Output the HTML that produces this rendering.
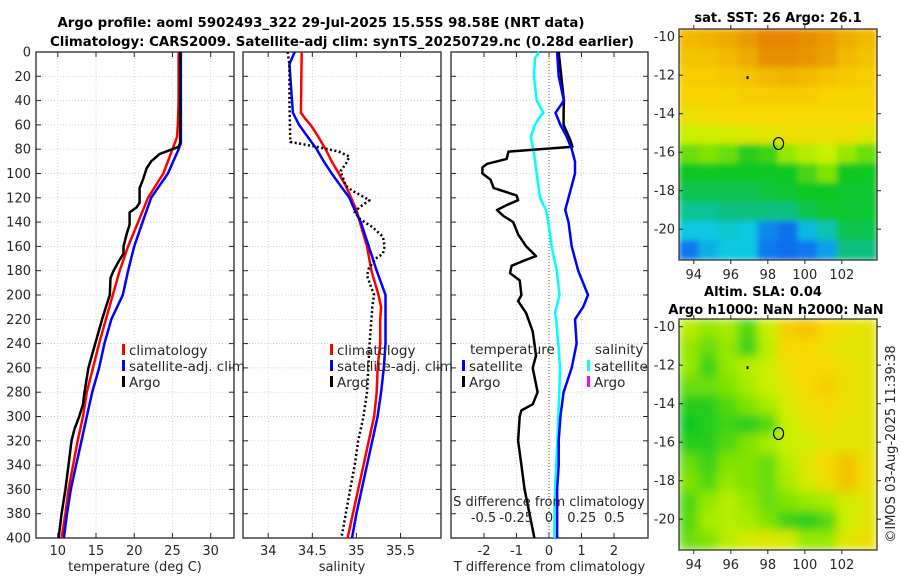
<!DOCTYPE html>
<html><head><meta charset="utf-8"><style>
html,body{margin:0;padding:0;background:#fff;}
svg{display:block;font-family:"DejaVu Sans","Liberation Sans",sans-serif;}
</style></head><body>
<svg id="fig" width="900" height="580" viewBox="0 0 900 580" xmlns="http://www.w3.org/2000/svg">
<text x="321" y="27" text-anchor="middle" font-size="13" font-weight="bold" textLength="527" lengthAdjust="spacingAndGlyphs">Argo profile: aoml 5902493_322 29-Jul-2025 15.55S 98.58E (NRT data)</text>
<text x="342" y="46" text-anchor="middle" font-size="13" font-weight="bold" textLength="584" lengthAdjust="spacingAndGlyphs">Climatology: CARS2009. Satellite-adj clim: synTS_20250729.nc (0.28d earlier)</text>
<g id="layer"></g>
</svg>
<script>
// ---- data ----
const tClimD = [0,20,40,60,70,80,100,120,140,160,180,200,220,240,260,280,300,320,340,360,380,400];
const tClim  = [25.8,25.8,25.8,25.7,25.6,25.0,23.8,21.8,20.5,19.2,18.1,17.2,16.3,15.4,14.6,13.8,13.3,12.6,12.0,11.4,11.0,10.5];
const tSatD = [0,20,40,60,75,80,100,120,140,160,180,200,220,240,260,280,300,320,340,360,380,400];
const tSat  = [26.1,26.1,26.1,26.1,26.1,25.8,24.4,22.2,21.1,20.0,19.2,18.5,17.0,16.1,15.4,14.5,13.8,13.1,12.4,11.7,11.2,10.8];
const tArgoD = [0,40,75,78,84,90,96,104,112,124,128,132,142,150,160,166,172,180,186,200,210,220,240,260,280,290,300,310,320,340,360,380,400];
const tArgo  = [26.0,26.0,26.0,25.8,23.3,22.2,21.6,21.2,20.7,20.7,20.3,19.4,19.4,19.0,18.6,18.6,18.0,17.3,16.9,16.8,16.3,15.8,14.9,14.0,13.5,13.3,12.8,12.2,11.8,11.4,11.0,10.5,10.1];
const sClimD = [0,50,55,60,70,80,90,100,110,120,130,140,160,180,200,210,220,240,260,280,300,320,340,360,380,400];
const sClim  = [34.38,34.37,34.42,34.48,34.57,34.65,34.72,34.80,34.88,34.94,35.0,35.04,35.12,35.17,35.25,35.28,35.27,35.27,35.24,35.23,35.20,35.14,35.08,35.02,34.96,34.90];
const sSatD = [0,5,10,20,40,50,60,70,80,90,100,110,120,130,140,160,180,200,220,240,260,280,300,320,340,360,380,400];
const sSat  = [34.30,34.27,34.24,34.25,34.27,34.28,34.35,34.45,34.55,34.63,34.72,34.82,34.92,34.98,35.05,35.14,35.23,35.33,35.33,35.33,35.31,35.28,35.24,35.18,35.12,35.06,35.0,34.95];
const sArgoD = [0,10,40,74,78,82,86,92,98,104,110,114,122,128,132,138,144,152,160,166,170,178,184,190,200,210,240,280,300,320,340,360,380,400];
const sArgo  = [34.22,34.24,34.24,34.25,34.55,34.80,34.92,34.88,34.82,34.85,34.88,34.95,35.15,35.03,34.98,35.05,35.18,35.30,35.32,35.30,35.22,35.14,35.12,35.15,35.20,35.18,35.15,35.12,35.08,35.02,34.98,34.93,34.88,34.83];
const dTSatD = [0,20,40,50,60,70,80,90,100,120,130,140,160,180,200,210,220,240,260,280,300,320,340,360,380,400];
const dTSat  = [0.25,0.3,0.46,0.2,0.35,0.55,0.7,0.8,0.8,0.6,0.5,0.6,0.7,0.9,1.2,1.05,0.8,0.85,0.7,0.45,0.35,0.3,0.3,0.25,0.25,0.25];
const dSSatD = [0,5,20,40,50,55,60,70,80,100,120,130,140,160,180,200,215,220,240,260,280,300,320,340,360,380,400];
const dSSat  = [-0.077,-0.107,-0.115,-0.094,-0.043,-0.082,-0.107,-0.140,-0.12,-0.094,-0.069,-0.023,-0.005,0.02,0.059,0.08,0.046,0.054,0.071,0.084,0.079,0.071,0.064,0.054,0.046,0.041,0.041];
const dTArgoD = [0,40,50,60,72,78,82,88,92,95,100,105,112,118,122,126,130,135,140,150,160,168,172,176,182,188,200,205,215,230,240,250,260,280,290,295,300,320,340,360,380,400];
const dTArgo  = [0.3,0.46,0.45,0.45,0.65,0.72,-1.25,-1.3,-1.9,-2.05,-2.05,-1.8,-1.7,-1.0,-0.95,-1.3,-1.6,-1.4,-1.1,-0.95,-0.7,-0.4,-0.8,-1.15,-1.2,-0.9,-0.85,-0.95,-0.7,-0.5,-0.45,-0.4,-0.5,-0.35,-0.5,-0.85,-0.9,-0.95,-0.85,-0.75,-0.6,-0.45];
const depthTicks = [0,20,40,60,80,100,120,140,160,180,200,220,240,260,280,300,320,340,360,380,400];
const tTicks = [10,15,20,25,30];
const sTicks = [34,34.5,35,35.5];
const dTTicks = [-2,-1,0,1,2];
const dSTicks = [-0.5,-0.25,0,0.25,0.5];
const dSTickLabels = ["-0.5","-0.25","0","0.25","0.5"];
const sstGrid = [
[.82,.83,.85,.88,.92,.92,.90,.88,.84,.82],
[.80,.80,.82,.85,.90,.90,.89,.87,.82,.80],
[.78,.78,.79,.80,.82,.83,.82,.80,.79,.78],
[.77,.77,.77,.78,.78,.78,.78,.77,.77,.77],
[.74,.75,.76,.76,.76,.76,.76,.76,.76,.76],
[.68,.69,.70,.71,.72,.74,.74,.74,.74,.72],
[.58,.60,.58,.52,.54,.62,.66,.68,.62,.58],
[.50,.50,.50,.50,.50,.50,.55,.60,.50,.50],
[.45,.45,.45,.45,.47,.48,.50,.50,.48,.48],
[.38,.38,.40,.40,.40,.40,.45,.48,.48,.48],
[.30,.30,.32,.30,.22,.18,.28,.35,.45,.45],
[.20,.27,.30,.30,.20,.17,.20,.25,.40,.40]];
const slaGrid = [
[.66,.62,.64,.56,.68,.78,.80,.76,.74,.72],
[.62,.58,.62,.54,.66,.76,.76,.74,.72,.72],
[.62,.54,.62,.66,.68,.74,.76,.76,.74,.72],
[.58,.58,.60,.64,.68,.72,.76,.78,.74,.72],
[.52,.52,.56,.60,.64,.70,.74,.76,.74,.72],
[.50,.52,.54,.52,.56,.68,.72,.74,.72,.72],
[.52,.52,.56,.60,.64,.68,.70,.72,.72,.72],
[.58,.54,.60,.60,.58,.66,.72,.76,.80,.74],
[.60,.56,.62,.60,.58,.64,.70,.74,.80,.74],
[.56,.62,.66,.62,.58,.60,.62,.64,.70,.72],
[.56,.64,.66,.64,.60,.54,.52,.56,.68,.72],
[.58,.60,.66,.70,.72,.70,.62,.62,.72,.74]];
const latTicks = [-10,-12,-14,-16,-18,-20];
const lonTicks = [94,96,98,100,102];
const argoLon = 98.58, argoLat = -15.55;

// ---- drawing ----
const NS="http://www.w3.org/2000/svg";
const L=document.getElementById('layer');
function mk(tag,attrs,parent){const e=document.createElementNS(NS,tag);for(const k in attrs)e.setAttribute(k,attrs[k]);(parent||L).appendChild(e);return e;}
const Y0=52,Y1=538;
const yD=d=>Y0+(d/400)*(Y1-Y0);
const P1={x0:36,x1:234,lo:7.15,hi:33.05};
const P2={x0:243,x1:441,lo:33.714,hi:35.959};
const P3={x0:451,x1:648,lo:-3.015,hi:3.046};
const sx=(P,v)=>P.x0+(v-P.lo)/(P.hi-P.lo)*(P.x1-P.x0);
const sxS=v=>549+v*131;
const tc="#262626";

function panel(P,name,xt){
  const g=mk('g',{});
  
  
  depthTicks.forEach(d=>{const l=mk('line',{x1:P.x0,x2:P.x1,y1:yD(d),y2:yD(d),stroke:'#b8c0e8','stroke-width':0.7,'stroke-dasharray':'1,2'},g);
    });
  xt.forEach(v=>{const x=sx(P,v);const l=mk('line',{x1:x,x2:x,y1:Y0,y2:Y1,stroke:'#e0b8b8','stroke-width':0.7,'stroke-dasharray':'1,2'},g);
    });
  return g;
}
function frame(P,xt,xlabels,xtitle,g,showY){
  const r=mk('rect',{x:P.x0,y:Y0,width:P.x1-P.x0,height:Y1-Y0,fill:'none',stroke:tc,'stroke-width':1.3},g);
  
  depthTicks.forEach(d=>{
    mk('line',{x1:P.x0,x2:P.x0+5,y1:yD(d),y2:yD(d),stroke:tc},g);
    mk('line',{x1:P.x1-5,x2:P.x1,y1:yD(d),y2:yD(d),stroke:tc},g);
    if(showY){const t=mk('text',{x:31,y:yD(d)+4.5,'text-anchor':'end','font-size':13,fill:tc},g);t.textContent=d;
      }
  });
  xt.forEach((v,i)=>{const x=sx(P,v);
    mk('line',{x1:x,x2:x,y1:Y1,y2:Y1-5,stroke:tc},g);
    mk('line',{x1:x,x2:x,y1:Y0,y2:Y0+5,stroke:tc},g);
    const t=mk('text',{x:x,y:555,'text-anchor':'middle','font-size':13,fill:tc},g);t.textContent=xlabels[i];
    });
  const t=mk('text',{x:(P.x0+P.x1)/2,y:571,'text-anchor':'middle','font-size':13,fill:tc},g);t.textContent=xtitle;
  
}
function line(xs,ds,fx,color,w,name,dash){
  const pts=xs.map((v,i)=>fx(v).toFixed(1)+','+yD(ds[i]).toFixed(1)).join(' ');
  const a={points:pts,fill:'none',stroke:color,'stroke-width':w,'stroke-linejoin':'round'};
  if(dash)a['stroke-dasharray']=dash;
  const e=mk('polyline',a);
  
  
}
function legend(x,y,color,label,name){
  const r=mk('rect',{x:x,y:y-6,width:3,height:11,fill:color});
  
  const t=mk('text',{x:x+7,y:y+5,'font-size':13.5,fill:tc});t.textContent=label;
  
}

let g1=panel(P1,'temperature-panel',tTicks);
line(tClim,tClimD,v=>sx(P1,v),'#ff0000',2.5,'temperature-climatology-line');
line(tSat,tSatD,v=>sx(P1,v),'#0000ff',2.5,'temperature-satellite-line');
line(tArgo,tArgoD,v=>sx(P1,v),'#000000',2.5,'temperature-argo-line');
frame(P1,tTicks,tTicks.map(String),'temperature (deg C)',g1,true);
legend(122,350,'#ff0000','climatology','temp-legend-climatology');
legend(122,366,'#0000ff','satellite-adj. clim','temp-legend-satellite');
legend(122,382,'#000000','Argo','temp-legend-argo');

let g2=panel(P2,'salinity-panel',sTicks);
line(sClim,sClimD,v=>sx(P2,v),'#ff0000',2.5,'salinity-climatology-line');
line(sSat,sSatD,v=>sx(P2,v),'#0000ff',2.5,'salinity-satellite-line');
line(sArgo,sArgoD,v=>sx(P2,v),'#000000',2.5,'salinity-argo-line','2,2.5');
frame(P2,sTicks,sTicks.map(String),'salinity',g2,false);
legend(330,350,'#ff0000','climatology','sal-legend-climatology');
legend(330,366,'#0000ff','satellite-adj. clim','sal-legend-satellite');
legend(330,382,'#000000','Argo','sal-legend-argo');

let g3=panel(P3,'difference-panel',dTTicks);
const z=mk('line',{x1:549,x2:549,y1:Y0,y2:Y1,stroke:'#555533','stroke-width':1,'stroke-dasharray':'1,2'});

line(dSSat,dSSatD,sxS,'#00ffff',2.5,'salinity-diff-satellite-line');
line(dTArgo,dTArgoD,v=>sx(P3,v),'#000000',2.5,'temperature-diff-argo-line');
line(dTSat,dTSatD,v=>sx(P3,v),'#0000ff',2.5,'temperature-diff-satellite-line');
frame(P3,dTTicks,dTTicks.map(String),'T difference from climatology',g3,false);
{const t=mk('text',{x:549,y:506,'text-anchor':'middle','font-size':13,fill:tc});t.textContent='S difference from climatology';
 }
dSTicks.forEach((v,i)=>{const t=mk('text',{x:sxS(v),y:522,'text-anchor':'middle','font-size':13,fill:tc});t.textContent=dSTickLabels[i];
 });
{const t=mk('text',{x:470,y:354,'font-size':13.5,fill:tc});t.textContent='temperature';
 
 const t2=mk('text',{x:595,y:354,'font-size':13.5,fill:tc});t2.textContent='salinity';
 }
legend(462,366,'#0000ff','satellite','diff-legend-temp-satellite');
legend(462,382,'#000000','Argo','diff-legend-temp-argo');
legend(587,366,'#00ffff','satellite','diff-legend-sal-satellite');
legend(587,382,'#ff00ff','Argo','diff-legend-sal-argo');

const stops=[[0,[16,48,224]],[0.2,[16,120,240]],[0.3,[16,200,224]],[0.4,[16,192,128]],[0.5,[16,200,32]],[0.62,[150,232,0]],[0.68,[200,240,0]],[0.76,[248,216,0]],[0.9,[232,144,0]],[1,[220,100,0]]];
function cmap(v){for(let i=1;i<stops.length;i++){if(v<=stops[i][0]){const a=stops[i-1],b=stops[i];const f=(v-a[0])/(b[0]-a[0]);
  return 'rgb('+a[1].map((c,k)=>Math.round(c+(b[1][k]-c)*f)).join(',')+')';}}return 'rgb(220,100,0)';}
function map(grid,y0,y1,name,blur){
  const X0=679,X1=877,lonLo=93.2,lonHi=103.9,latTop=-9.6,latBot=-21.6;
  const mx=v=>X0+(v-lonLo)/(lonHi-lonLo)*(X1-X0);
  const my=v=>y0+(latTop-v)/(latTop-latBot)*(y1-y0);
  const g=mk('g',{});
  const cid='clip'+name;
  const cp=mk('clipPath',{id:cid},g);mk('rect',{x:X0,y:y0,width:X1-X0,height:y1-y0},cp);
  const gi=mk('g',{'clip-path':'url(#'+cid+')'},g);
  const inner=mk('g',{filter:'url(#'+blur+')'},gi);
  const rows=grid.length,cols=grid[0].length,cw=(X1-X0)/cols,ch=(y1-y0)/rows;
  grid.forEach((row,r)=>row.forEach((v,c)=>{
    const e=mk('rect',{x:X0+c*cw-0.5,y:y0+r*ch-0.5,width:cw+1,height:ch+1,fill:cmap(v)},inner);
    }));
  const circ=mk('ellipse',{cx:mx(argoLon),cy:my(argoLat),rx:5,ry:6,fill:'none',stroke:'#000','stroke-width':1.2},g);
  
  mk('rect',{x:mx(96.85),y:my(-12.1)-1,width:2,height:3,fill:'#000'},g);
  mk('rect',{x:X0,y:y0,width:X1-X0,height:y1-y0,fill:'none',stroke:tc,'stroke-width':1.2},g);
  latTicks.forEach(v=>{const y=my(v);mk('line',{x1:X0,x2:X0+4,y1:y,y2:y,stroke:tc},g);mk('line',{x1:X1,x2:X1+4,y1:y,y2:y,stroke:tc},g);
    const t=mk('text',{x:675,y:y+4.5,'text-anchor':'end','font-size':13,fill:tc},g);t.textContent=v;
    });
  lonTicks.forEach(v=>{const x=mx(v);mk('line',{x1:x,x2:x,y1:y0,y2:y0-4,stroke:tc},g);mk('line',{x1:x,x2:x,y1:y1,y2:y1+4,stroke:tc},g);
    const t=mk('text',{x:x,y:y1+19,'text-anchor':'middle','font-size':13,fill:tc},g);t.textContent=v;
    });
}
const defs=mk('defs',{});
const f=mk('filter',{id:'bl',x:'-5%',y:'-5%',width:'110%',height:'110%'},defs);mk('feGaussianBlur',{stdDeviation:5},f);
const f2=mk('filter',{id:'bl2',x:'-5%',y:'-5%',width:'110%',height:'110%'},defs);mk('feGaussianBlur',{stdDeviation:3},f2);
map(sstGrid,29,260,'sst-map','bl2');
map(slaGrid,319,550,'sla-map','bl');
function txt(x,y,s,name){const t=mk('text',{x:x,y:y,'text-anchor':'middle','font-size':13,'font-weight':'bold',fill:'#000'});t.textContent=s;
  return t;}
txt(778,22,'sat. SST: 26 Argo: 26.1','sst-map-title');
txt(763,296,'Altim. SLA: 0.04','sla-map-title');
txt(776,314,'Argo h1000: NaN h2000: NaN','sla-map-subtitle');
{const t=mk('text',{x:0,y:0,'text-anchor':'middle','font-size':13,fill:tc,transform:'translate(895,444) rotate(-90)'});
 t.textContent='©IMOS 03-Aug-2025 11:39:38';}
</script>
</body></html>
